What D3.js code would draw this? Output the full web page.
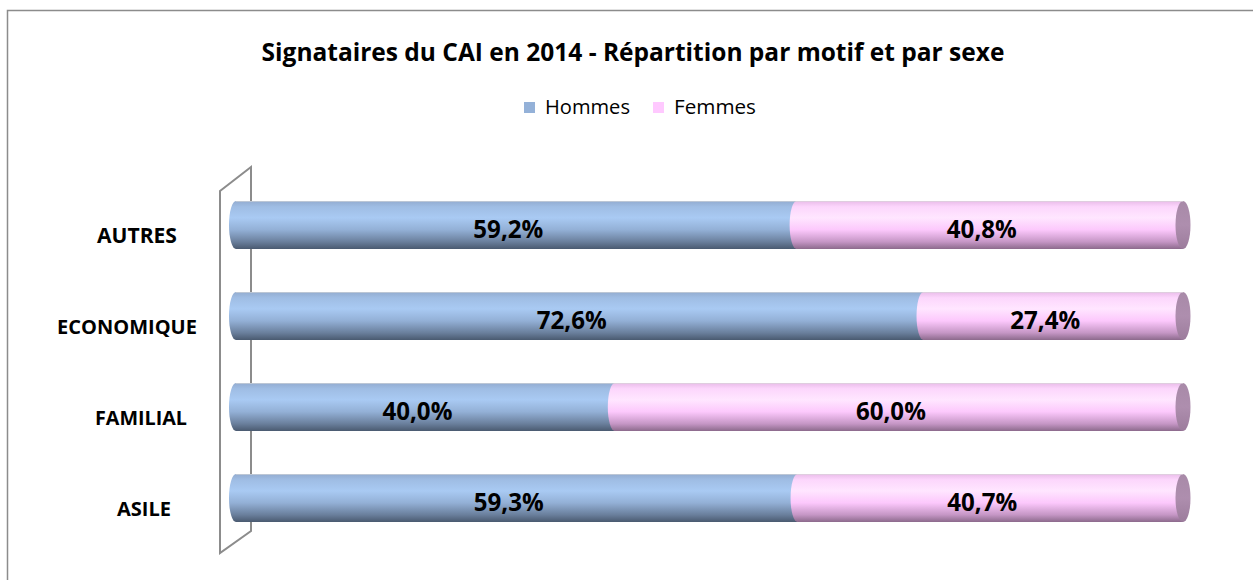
<!DOCTYPE html>
<html><head><meta charset="utf-8">
<script src="https://cdn.jsdelivr.net/npm/d3@7"></script>
<style>
html,body{margin:0;padding:0;background:#fff;}
svg text{font-family:"Open Sans",sans-serif;}
</style></head>
<body>
<svg id="c" width="1253" height="580"></svg>
<script>
const categories = ["AUTRES","ECONOMIQUE","FAMILIAL","ASILE"];
const seriesNames = ["Hommes","Femmes"];
const hommes = [59.2, 72.6, 40.0, 59.3];
const femmes = [40.8, 27.4, 60.0, 40.7];
const title = "Signataires du CAI en 2014 - Répartition par motif et par sexe";

const svg = d3.select("#c");
const W = 1253, H = 580;
const fmt = v => v.toFixed(1).replace(".", ",") + "%";

// scale a text's font size so that it spans the given width (Calibri substitute)
function fit(sel, width){
  const w = sel.node().getComputedTextLength();
  const fs = parseFloat(sel.attr("font-size"));
  sel.attr("font-size", (fs * width / w).toFixed(2));
  return sel;
}

const defs = svg.append("defs");
function vgrad(id, stops){
  const g = defs.append("linearGradient").attr("id", id).attr("x1",0).attr("y1",0).attr("x2",0).attr("y2",1);
  stops.forEach(s => g.append("stop").attr("offset", s[0]).attr("stop-color", s[1]));
}
vgrad("gBlue", [[0,"#93acd0"],[0.12,"#9fbde4"],[0.35,"#a9caf3"],[0.6,"#93b0d6"],[0.85,"#6a7f9c"],[1,"#4a5a70"]]);
vgrad("gPink", [[0,"#e9bce9"],[0.12,"#fcd6fc"],[0.35,"#ffe6ff"],[0.6,"#fcc8fc"],[0.85,"#c596c5"],[1,"#8c6a8c"]]);
vgrad("gCap", [[0,"#a88aa8"],[0.5,"#ae8eae"],[1,"#9c7c9c"]]);

// outer border (top and left visible)
svg.append("path").attr("d", `M7.5,${H} L7.5,10.5 L${W},10.5`)
  .attr("fill","none").attr("stroke","#8c8c8c").attr("stroke-width",1.5);

// title
fit(svg.append("text").attr("x", 633).attr("y", 61).attr("text-anchor","middle")
  .attr("font-weight","bold").attr("font-size", 21).attr("fill","#000").text(title), 743);

// legend
const legColors = ["#94b1d8","#ffc9ff"];
const legX = [524, 653];
const legW = [85, 82];
seriesNames.forEach((n,i) => {
  svg.append("rect").attr("x", legX[i]).attr("y", 102).attr("width", 11).attr("height", 11).attr("fill", legColors[i]);
  fit(svg.append("text").attr("x", legX[i] + 21).attr("y", 114).attr("font-size", 17).attr("fill","#000").text(n), legW[i]);
});

// scales
const x = d3.scaleLinear().domain([0,100]).range([236, 1183]);
const y = d3.scalePoint().domain(categories).range([179.5, 543.5]).padding(0.5);
const bh = 48, rx = 7;

// wall (3D back wall outline)
svg.append("path").attr("d", "M220,191 L251,167 L251,531 L220,553 Z")
  .attr("fill","none").attr("stroke","#8c8c8c").attr("stroke-width",2);

// category label layout (width, centre) as seen in the perspective rendering
const catLayout = {"AUTRES":[80,137], "ECONOMIQUE":[140,127], "FAMILIAL":[92,141], "ASILE":[54,144]};

// bars
const data = categories.map((c,i) => ({c, h: hommes[i], f: femmes[i]}));
const g = svg.append("g");
data.forEach(d => {
  const cy = y(d.c), top = cy - bh/2, bot = cy + bh/2;
  const segs = [
    {x0: x(0), x1: x(d.h), fill: "url(#gBlue)", v: d.h},
    {x0: x(d.h), x1: x(d.h + d.f), fill: "url(#gPink)", v: d.f}
  ];
  segs.forEach(s => {
    const p = `M${s.x0},${top} L${s.x1},${top} L${s.x1},${bot} L${s.x0},${bot} A${rx},${bh/2} 0 0 1 ${s.x0},${top} Z`;
    g.append("path").attr("d", p).attr("fill", s.fill);
  });
  g.append("ellipse").attr("cx", x(d.h + d.f)).attr("cy", cy).attr("rx", 7.5).attr("ry", bh/2)
    .attr("fill","url(#gCap)");
  g.append("line").attr("x1", x(0)).attr("x2", x(100)).attr("y1", top + 0.5).attr("y2", top + 0.5)
    .attr("stroke","#d8d8d8").attr("stroke-width",1).attr("opacity",0.6);
  segs.forEach(s => {
    fit(g.append("text").attr("x", (s.x0 + s.x1)/2 - 8).attr("y", cy + 13)
      .attr("text-anchor","middle").attr("font-weight","bold").attr("font-size", 19)
      .attr("fill","#000").text(fmt(s.v)), 70);
  });
  const [cw, cx] = catLayout[d.c];
  fit(svg.append("text").attr("x", cx).attr("y", cy + 18).attr("text-anchor","middle")
    .attr("font-weight","bold").attr("font-size", 18).attr("fill","#000").text(d.c), cw);
});
</script>
</body></html>
